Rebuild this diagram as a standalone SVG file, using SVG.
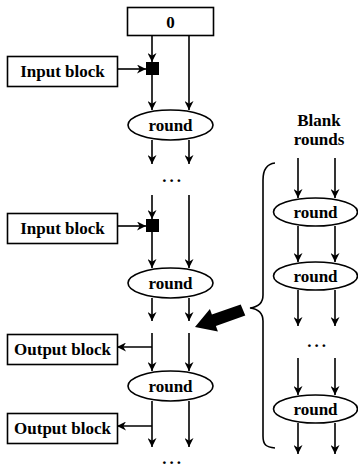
<svg xmlns="http://www.w3.org/2000/svg" width="358" height="468" viewBox="0 0 358 468">
<style>
.box{fill:#fff;stroke:#000;stroke-width:1.6}
.el{fill:#fff;stroke:#000;stroke-width:1.6}
.ln{stroke:#000;stroke-width:1.6;fill:none}
text{font-family:'Liberation Serif','DejaVu Serif',serif;font-weight:bold;font-size:17px;text-anchor:middle;fill:#000}
.dots{letter-spacing:3px}
</style>
<defs>
<marker id="ah" viewBox="0 0 10 10" refX="10" refY="5" markerWidth="9" markerHeight="9" markerUnits="userSpaceOnUse" orient="auto">
<path d="M0,0 L10,5 L0,10 L3,5 z" fill="#000"/>
</marker>
</defs>
<rect width="358" height="468" fill="#fff"/>

<g id="connectors">
<line class="ln" x1="152" y1="35" x2="152" y2="62" marker-end="url(#ah)"/>
<line class="ln" x1="189" y1="35" x2="189" y2="110" marker-end="url(#ah)"/>
<line class="ln" x1="117" y1="69" x2="146" y2="69" marker-end="url(#ah)"/>
<line class="ln" x1="152" y1="75" x2="152" y2="110" marker-end="url(#ah)"/>
<line class="ln" x1="152" y1="140" x2="152" y2="164" marker-end="url(#ah)"/>
<line class="ln" x1="189" y1="140" x2="189" y2="164" marker-end="url(#ah)"/>
<line class="ln" x1="152" y1="195" x2="152" y2="219" marker-end="url(#ah)"/>
<line class="ln" x1="189" y1="195" x2="189" y2="268" marker-end="url(#ah)"/>
<line class="ln" x1="117" y1="226" x2="146" y2="226" marker-end="url(#ah)"/>
<line class="ln" x1="152" y1="232" x2="152" y2="268" marker-end="url(#ah)"/>
<line class="ln" x1="152" y1="298" x2="152" y2="321" marker-end="url(#ah)"/>
<line class="ln" x1="189" y1="298" x2="189" y2="321" marker-end="url(#ah)"/>
<line class="ln" x1="152" y1="333" x2="152" y2="371" marker-end="url(#ah)"/>
<line class="ln" x1="189" y1="333" x2="189" y2="371" marker-end="url(#ah)"/>
<line class="ln" x1="152" y1="347" x2="117" y2="347" marker-end="url(#ah)"/>
<line class="ln" x1="152" y1="401" x2="152" y2="447" marker-end="url(#ah)"/>
<line class="ln" x1="189" y1="401" x2="189" y2="447" marker-end="url(#ah)"/>
<line class="ln" x1="152" y1="426" x2="117" y2="426" marker-end="url(#ah)"/>
<line class="ln" x1="298" y1="158" x2="298" y2="198" marker-end="url(#ah)"/>
<line class="ln" x1="335" y1="158" x2="335" y2="198" marker-end="url(#ah)"/>
<line class="ln" x1="298" y1="226" x2="298" y2="262" marker-end="url(#ah)"/>
<line class="ln" x1="335" y1="226" x2="335" y2="262" marker-end="url(#ah)"/>
<line class="ln" x1="298" y1="290" x2="298" y2="326" marker-end="url(#ah)"/>
<line class="ln" x1="335" y1="290" x2="335" y2="326" marker-end="url(#ah)"/>
<line class="ln" x1="298" y1="358" x2="298" y2="395" marker-end="url(#ah)"/>
<line class="ln" x1="335" y1="358" x2="335" y2="395" marker-end="url(#ah)"/>
<line class="ln" x1="298" y1="423" x2="298" y2="454" marker-end="url(#ah)"/>
<line class="ln" x1="335" y1="423" x2="335" y2="454" marker-end="url(#ah)"/>
<path class="ln" d="M275,163 C266,164 263,170 263,180 L263,295 C263,303 258,307 250,308 C258,309 263,313 263,321 L263,436 C263,445 266,447 275,448"/>
<polygon points="240.7,304.5 211.9,314.6 209.9,309 195,327 217.9,331.6 215.9,326 245.3,315.5" fill="#000"/>
</g>

<g id="zero"><rect class="box" x="127.5" y="7.5" width="86" height="28"/><text x="170.5" y="28">0</text></g>
<g id="xor1"><rect x="146" y="62" width="13" height="13" fill="#000"/></g>
<g id="input1"><rect class="box" x="7.5" y="56.5" width="110" height="30"/><text x="62.5" y="77">Input block</text></g>
<g id="round1"><ellipse class="el" cx="170.5" cy="125" rx="42.5" ry="15"/><text x="170.5" y="131">round</text></g>
<g id="dots1"><text class="dots" x="173" y="182">...</text></g>
<g id="xor2"><rect x="146" y="219" width="13" height="13" fill="#000"/></g>
<g id="input2"><rect class="box" x="7.5" y="213.5" width="110" height="30"/><text x="62.5" y="234">Input block</text></g>
<g id="round2"><ellipse class="el" cx="170.5" cy="283" rx="42.5" ry="15"/><text x="170.5" y="289">round</text></g>
<g id="output1"><rect class="box" x="7.5" y="334.5" width="110" height="30"/><text x="62.5" y="355">Output block</text></g>
<g id="round3"><ellipse class="el" cx="170.5" cy="386" rx="42.5" ry="15"/><text x="170.5" y="392">round</text></g>
<g id="output2"><rect class="box" x="7.5" y="413.5" width="110" height="30"/><text x="62.5" y="434">Output block</text></g>
<g id="dots2"><text class="dots" x="173" y="464">...</text></g>

<g id="blank-label"><text x="319" y="126">Blank</text><text x="319" y="145">rounds</text></g>
<g id="rround1"><ellipse class="el" cx="315.5" cy="212" rx="42" ry="14"/><text x="315.5" y="218">round</text></g>
<g id="rround2"><ellipse class="el" cx="315.5" cy="276" rx="42" ry="14"/><text x="315.5" y="282">round</text></g>
<g id="rdots"><text class="dots" x="318" y="347">...</text></g>
<g id="rround3"><ellipse class="el" cx="315.5" cy="409" rx="42" ry="14"/><text x="315.5" y="415">round</text></g>
</svg>
